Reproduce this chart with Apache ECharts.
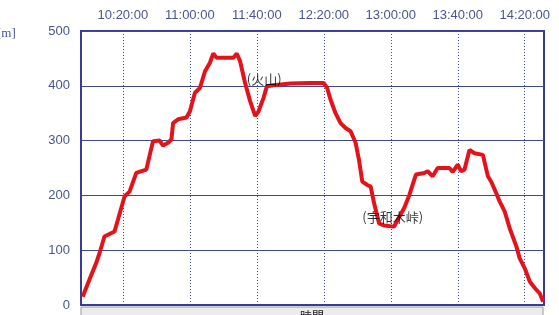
<!DOCTYPE html>
<html>
<head>
<meta charset="utf-8">
<script src="https://cdn.jsdelivr.net/npm/echarts@6/dist/echarts.min.js"></script>
<style>html,body{margin:0;padding:0;background:#fff;}#c{width:559px;height:315px;}</style>
</head>
<body>
<div id="c"></div>
<script>
// elevation profile: time (H:MM) and elevation (m)
const times = ['9:56','10:00','10:04','10:06','10:09','10:15','10:17','10:21','10:24','10:28','10:34','10:38','10:42','10:44','10:47','10:49','10:50','10:53','10:58','11:00','11:03','11:06','11:09','11:12','11:14','11:16','11:26','11:28','11:30','11:33','11:36','11:39','11:41','11:44','11:46','11:50','12:00','12:12','12:20','12:22','12:24','12:27','12:30','12:33','12:36','12:39','12:41','12:43','12:46','12:48','12:50','12:53','12:56','13:02','13:04','13:08','13:11','13:15','13:20','13:22','13:25','13:28','13:35','13:37','13:40','13:42','13:44','13:47','13:50','13:55','13:58','14:00','14:03','14:05','14:08','14:11','14:15','14:17','14:20','14:23','14:26','14:29','14:31'];
const elevations = [15,46,76,94,125,134,155,198,207,241,247,299,300,291,296,302,332,339,342,353,387,396,426,442,459,451,451,459,445,405,372,345,353,378,399,401,404,405,405,396,375,350,332,323,317,296,265,225,219,216,186,149,145,143,155,177,200,238,241,244,235,250,250,243,256,244,247,283,277,274,235,225,204,189,171,140,107,85,67,43,31,21,6];
const tickTimes = ['10:20','11:00','11:40','12:20','13:00','13:40','14:20'];
const placeNames = ['(火山)','(宇和木峠)'];
const placeTimes = ['11:34','12:43'];
const placeElevations = [413,160];

function toMin(s){const p=s.split(':');return +p[0]*60 + +p[1];}
function fmt(v){const h=Math.floor(v/60), m=Math.round(v-h*60);return h+':'+(m<10?'0':'')+m+':00';}

const seriesData = times.map((t,i)=>[toMin(t), elevations[i]]);
const tickVals = tickTimes.map(toMin);
const placeData = placeNames.map((n,i)=>({name:n, value:[toMin(placeTimes[i]), placeElevations[i]]}));

const axisColor = '#4a5590';
const chart = echarts.init(document.getElementById('c'), null, {renderer:'canvas'});
chart.setOption({
  animation:false,
  grid:{left:81,right:15,top:31,bottom:10,show:true,borderColor:'#3a3a98',borderWidth:2,backgroundColor:'transparent'},
  xAxis:{
    type:'value', position:'top', min:595, max:871.5,
    axisLine:{show:true,lineStyle:{color:'#3a3a98',width:2}},
    axisTick:{show:false,customValues:tickVals},
    axisLabel:{customValues:tickVals,formatter:fmt,color:axisColor,fontFamily:'Liberation Sans',fontSize:13,margin:9},
    splitLine:{show:true,lineStyle:{color:'#3d4a90',type:[1,2],width:1}}
  },
  yAxis:{
    type:'value', min:0, max:500, interval:100,
    axisLine:{show:true,lineStyle:{color:'#3a3a98',width:1}},
    axisTick:{show:false},
    axisLabel:{color:axisColor,fontFamily:'Liberation Sans',fontSize:13,margin:11},
    splitLine:{show:true,lineStyle:{color:'#3d4a90',width:1}}
  },
  series:[
    {type:'line',data:seriesData,showSymbol:false,lineStyle:{color:'#e3131b',width:4},z:3},
    {type:'scatter',data:placeData,symbolSize:0,z:4,
     label:{show:true,position:'right',distance:0,formatter:p=>p.name,color:'#000',fontSize:13,fontFamily:'Noto Sans CJK JP'}}
  ],
  graphic:[
    {type:'text',left:-3,top:27,style:{text:'[m]',fill:axisColor,font:'13px Liberation Serif'}},
    {type:'rect',shape:{x:81,y:307,width:462,height:14},style:{fill:'#ececec',stroke:'#9a9a9a',lineWidth:1}},
    {type:'text',left:300,top:310,style:{text:'時間',fill:'#222',font:'12px "Noto Sans CJK JP"'}}
  ]
});
</script>
</body>
</html>
